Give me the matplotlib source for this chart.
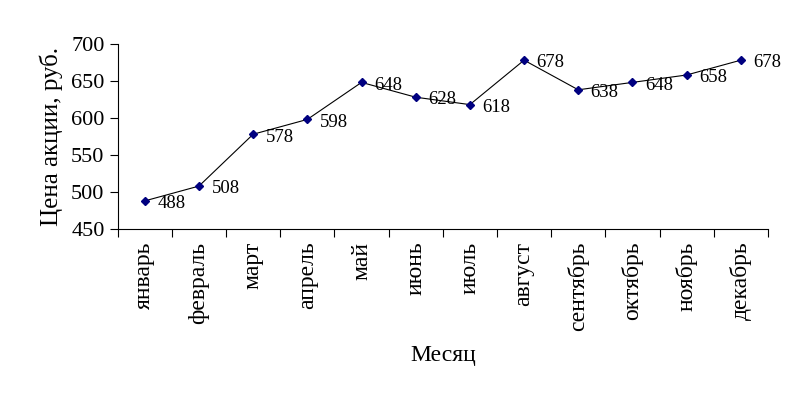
import matplotlib
matplotlib.use("Agg")
from matplotlib import pyplot as plt

months = ["январь", "февраль", "март", "апрель", "май", "июнь",
          "июль", "август", "сентябрь", "октябрь", "ноябрь", "декабрь"]
prices = [488, 508, 578, 598, 648, 628, 618, 678, 638, 648, 658, 678]

plt.rcParams['font.family'] = ['Liberation Serif', 'DejaVu Serif']

fig = plt.figure(figsize=(7.9, 3.99), dpi=100)
ax = fig.add_axes([0.149, 0.426, 0.823, 0.464])

x = list(range(len(months)))
ax.plot(x, prices, color='black', lw=0.8, marker='D', markersize=4,
        markerfacecolor='#000080', markeredgecolor='#000080')

for i, v in zip(x, prices):
    ax.annotate(str(v), (i, v), xytext=(9, -2), textcoords='offset points',
                ha='left', va='center', fontsize=13.5)

ax.set_xlim(-0.5, 11.5)
ax.set_ylim(450, 700)
ax.set_yticks([450, 500, 550, 600, 650, 700])
ax.set_xticks(x)
ax.set_xticklabels(months, rotation=90, fontsize=17)
ax.set_xticks([i - 0.5 for i in range(13)], minor=True)
ax.tick_params(axis='x', which='major', length=0, pad=9)
ax.tick_params(axis='x', which='minor', length=6, direction='out', width=0.8)
ax.tick_params(axis='y', length=6, direction='out', width=0.8, labelsize=16)

for s in ['top', 'right']:
    ax.spines[s].set_visible(False)
for s in ['left', 'bottom']:
    ax.spines[s].set_linewidth(0.8)

ax.set_ylabel("Цена акции, руб.", fontsize=18, labelpad=6)
ax.set_xlabel("Месяц", fontsize=17, labelpad=10)

fig.savefig("out.png", dpi=100)
